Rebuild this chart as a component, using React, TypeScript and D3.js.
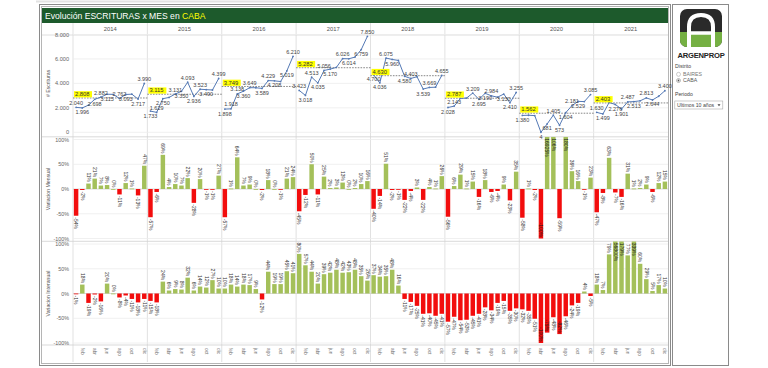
import React, { useEffect, useRef } from 'react';
import * as d3 from 'd3';

// Data (CABA, monthly deeds)
const years = ['2014', '2015', '2016', '2017', '2018', '2019', '2020', '2021'];
const monthNames = ['ene', 'feb', 'mar', 'abr', 'may', 'jun', 'jul', 'ago', 'sep', 'oct', 'nov', 'dic'];

const escrituras = [
  2040, 1996, 2222, 2698, 2882, 3115, 3103, 2762, 3093, 3120, 2717, 3990,
  1733, 1629, 2750, 2851, 3131, 3350, 4093, 2936, 3523, 3490, 3460, 4399,
  1898, 1918, 3138, 3360, 3649, 3646, 3589, 4229, 4208, 4153, 5019, 6210,
  3423, 3018, 4513, 4035, 5056, 5170, 5311, 6026, 6014, 6154, 6759, 7850,
  4700, 4036, 6075, 5960, 5877, 4580, 4403, 4549, 3539, 3669, 3689, 4655,
  2028, 2143, 2774, 2800, 3209, 2695, 3190, 2984, 2871, 3130, 2410, 3255,
  1380, 1395, 1365, 4, 681, 1405, 573, 1604, 2181, 2529, 2512, 3085,
  1630, 1499, 2438, 2276, 1901, 2487, 2513, 2574, 2813, 2644, 2950, 3400
];

const promedioAnual = [2808, 3115, 3749, 5282, 4630, 2787, 1562, 2403];

const variacionMensual = [
  -54, -2, 11, 21, 7, 8, 0, -11, 12, 1, -13, 47,
  -57, -6, 69, 4, 10, 7, 22, -28, 20, -1, -1, 27,
  -57, 1, 64, 7, 9, 0, -2, 18, 0, -1, 21, 24,
  -45, -12, 50, -11, 25, 2, 3, 13, 0, 2, 10, 16,
  -40, -14, 51, -2, -1, -22, -4, 3, -22, 4, 1, 26,
  -56, 6, 29, 1, 15, -16, 18, -6, -4, 9, -23, 35,
  -58, 1, -2, -100, 16925, 106, -59, 180, 36, 16, -1, 23,
  -47, -8, 63, -7, -16, 31, 1, 2, 9, -6, 12, 15
];

const variacionInteranual = [
  -1, 18, -19, -2, -16, 20, 0, -8, -4, -11, -18, -11,
  -15, -18, 24, 6, 9, 8, 32, 6, 14, 12, 27, 10,
  10, 18, 14, 18, 17, 9, -12, 44, 19, 19, 45, 41,
  80, 57, 44, 20, 39, 42, 48, 42, 43, 48, 35, 26,
  37, 34, 35, 48, 16, -11, -17, -25, -41, -40, -45, -41,
  -57, -47, -54, -53, -45, -41, -28, -34, -19, -15, -35, -30,
  -32, -35, -51, -100, -79, -48, -82, -46, -24, -19, 4, -5,
  18, 7, 79, 56800, 179, 77, 339, 60, 29, 5, 17, 10
];

const escriturasTicks = [0, 2000, 4000, 6000, 8000];
const pctTicks = [-100, -50, 0, 50, 100];

const FONT = "'Liberation Sans', Arial, sans-serif";
const GREEN_DARK = '#1d5a2c';
const BAR_GREEN = '#a4c05a';
const BAR_RED = '#f20d0d';
const LINE_BLUE = '#5479b5';

const loc = d3.formatLocale({ decimal: ',', thousands: '.', grouping: [3], currency: ['$', ''] });
const fmt = loc.format(',d');

type Box = { x0: number; x1: number; y0: number; y1: number };

function hits(b: Box, list: Box[]) {
  return list.some(function (o) {
    return b.x0 < o.x1 && b.x1 > o.x0 && b.y0 < o.y1 && b.y1 > o.y0;
  });
}

function draw(svgEl: SVGSVGElement) {
  const svg = d3.select(svgEl);
  svg.selectAll('*').remove();

  const plotL = 73, plotR = 668;
  const n = escrituras.length;

  var x = d3.scaleBand<number>()
    .domain(d3.range(n))
    .range([plotL, plotR])
    .paddingInner(0.28)
    .paddingOuter(0.14);
  var bw = x.bandwidth();
  var cx = (i: number) => (x(i) as number) + bw / 2;

  var yearX = d3.scaleBand<string>().domain(years).range([plotL, plotR]);

  var yTop = d3.scaleLinear().domain([0, 8000]).range([132.3, 34.5]);
  var yMid = d3.scaleLinear().domain([-100, 100]).range([238.5, 139.5]);
  var yBot = d3.scaleLinear().domain([-100, 100]).range([343, 244]);

  var defs = svg.append('defs');
  defs.append('clipPath').attr('id', 'clip-mid')
    .append('rect').attr('x', plotL).attr('y', 136.8).attr('width', plotR - plotL).attr('height', 104);
  defs.append('clipPath').attr('id', 'clip-bot')
    .append('rect').attr('x', plotL).attr('y', 241.3).attr('width', plotR - plotL).attr('height', 103.5);

  // frames
  svg.append('rect').attr('x', 0).attr('y', 0).attr('width', 768).attr('height', 368).attr('fill', '#fff');
  svg.append('line').attr('x1', 36).attr('x2', 360).attr('y1', 1.5).attr('y2', 1.5).attr('stroke', '#e2e2e2').attr('stroke-width', 2);
  svg.append('rect').attr('x', 39.5).attr('y', 4.5).attr('width', 631).attr('height', 361)
    .attr('fill', 'none').attr('stroke', '#8a8a8a');
  svg.append('rect').attr('x', 41.5).attr('y', 6.5).attr('width', 627).attr('height', 357)
    .attr('fill', 'none').attr('stroke', '#b5b5b5');

  // title bar
  svg.append('rect').attr('x', 42).attr('y', 8).attr('width', 626).attr('height', 15).attr('fill', GREEN_DARK);
  var title = svg.append('text').attr('x', 45).attr('y', 18.8)
    .style('font-family', FONT).style('font-size', '8.6px').style('fill', '#fff');
  title.append('tspan').text('Evolución ESCRITURAS x MES en ');
  title.append('tspan').style('fill', '#ffff00').text('CABA');

  var g = svg.append('g');

  // year header + dividers
  g.append('line').attr('x1', 42).attr('x2', 668).attr('y1', 35).attr('y2', 35).attr('stroke', '#d6d6d6').attr('stroke-width', 0.8);
  years.forEach(function (yr) {
    var x0 = yearX(yr) as number;
    g.append('text').attr('x', x0 + yearX.bandwidth() / 2).attr('y', 31)
      .attr('text-anchor', 'middle')
      .style('font-family', FONT).style('font-size', '5.8px').style('fill', '#555')
      .text(yr);
    g.append('line').attr('x1', x0).attr('x2', x0).attr('y1', 23).attr('y2', 362)
      .attr('stroke', '#d9d9d9').attr('stroke-width', 0.8);
  });

  // panel separators
  [136.8, 241.3, 345].forEach(function (yy) {
    g.append('line').attr('x1', 42).attr('x2', 668).attr('y1', yy).attr('y2', yy)
      .attr('stroke', '#cfcfcf').attr('stroke-width', 0.8);
  });

  // ---------- top: escrituras ----------
  escriturasTicks.forEach(function (t) {
    g.append('line').attr('x1', plotL).attr('x2', plotR).attr('y1', yTop(t)).attr('y2', yTop(t))
      .attr('stroke', '#ececec').attr('stroke-width', 0.8);
    g.append('text').attr('x', 69).attr('y', yTop(t) + 2)
      .attr('text-anchor', 'end')
      .style('font-family', FONT).style('font-size', '5.6px').style('fill', '#666')
      .text(fmt(t));
  });
  g.append('text')
    .attr('transform', 'translate(50,' + yTop(4000) + ') rotate(-90)')
    .attr('text-anchor', 'middle')
    .style('font-family', FONT).style('font-size', '5.2px').style('fill', '#555')
    .text('# Escrituras');

  var line = d3.line<number>()
    .x(function (d) { return cx(d); })
    .y(function (d) { return yTop(escrituras[d]); });

  // obstacles for point labels: yellow average boxes first
  var placed: Box[] = [];
  years.forEach(function (yr, k) {
    var x0 = yearX(yr) as number;
    var ya = yTop(promedioAnual[k]);
    var w = fmt(promedioAnual[k]).length * 3.2 + 2;
    placed.push({ x0: x0 + 1, x1: x0 + 1 + w, y0: ya - 6.8, y1: ya - 0.6 });
  });

  years.forEach(function (yr, k) {
    var idx = d3.range(k * 12, k * 12 + 12);
    var x0 = yearX(yr) as number;
    var x1 = x0 + yearX.bandwidth();
    var ya = yTop(promedioAnual[k]);

    // average reference line
    g.append('line').attr('x1', x0).attr('x2', x1).attr('y1', ya).attr('y2', ya)
      .attr('stroke', '#555').attr('stroke-width', 0.7).attr('stroke-dasharray', '1.6,1.2');

    g.append('path').datum(idx).attr('d', line)
      .attr('fill', 'none').attr('stroke', LINE_BLUE).attr('stroke-width', 1);

    g.selectAll('.pt' + k).data(idx).enter().append('circle')
      .attr('cx', function (d) { return cx(d); })
      .attr('cy', function (d) { return yTop(escrituras[d]); })
      .attr('r', 0.9).attr('fill', LINE_BLUE);

    // point labels, placed above or below; hidden when both collide
    idx.forEach(function (d, j) {
      var v = escrituras[d];
      var prev = j > 0 ? escrituras[d - 1] : v;
      var next = j < 11 ? escrituras[d + 1] : v;
      var above = v >= (prev + next) / 2;
      var txt = fmt(v);
      var w = txt.length * 2.75;
      var px = cx(d);
      var py = yTop(v);
      var opts = above ? [py - 2.5, py + 6.5] : [py + 6.5, py - 2.5];
      for (var o = 0; o < opts.length; o++) {
        var b = { x0: px - w / 2, x1: px + w / 2, y0: opts[o] - 4.2, y1: opts[o] + 0.3 };
        if (!hits(b, placed)) {
          placed.push(b);
          g.append('text').attr('x', px).attr('y', opts[o])
            .attr('text-anchor', 'middle')
            .style('font-family', FONT).style('font-size', '5.5px').style('fill', '#444')
            .text(txt);
          break;
        }
      }
    });

    // yellow average label
    var label = fmt(promedioAnual[k]);
    g.append('rect').attr('x', x0 + 1).attr('y', ya - 6.8).attr('width', label.length * 3.2 + 2).attr('height', 6.2)
      .attr('fill', '#ffff00');
    g.append('text').attr('x', x0 + 2).attr('y', ya - 1.8)
      .style('font-family', FONT).style('font-size', '5.8px').style('fill', '#333')
      .text(label);
  });

  // ---------- bar panels ----------
  function barPanel(data: number[], y: d3.ScaleLinear<number, number>, clipId: string, top: number, bottom: number, titleText: string) {
    pctTicks.forEach(function (t) {
      g.append('line').attr('x1', plotL).attr('x2', plotR).attr('y1', y(t)).attr('y2', y(t))
        .attr('stroke', t === 0 ? '#d0d0d0' : '#ececec').attr('stroke-width', 0.8);
      g.append('text').attr('x', 69).attr('y', y(t) + 2)
        .attr('text-anchor', 'end')
        .style('font-family', FONT).style('font-size', '5.4px').style('fill', '#666')
        .text(t + '%');
    });
    g.append('text')
      .attr('transform', 'translate(50,' + y(0) + ') rotate(-90)')
      .attr('text-anchor', 'middle')
      .style('font-family', FONT).style('font-size', '5.2px').style('fill', '#555')
      .text(titleText);

    var pg = g.append('g').attr('clip-path', 'url(#' + clipId + ')');
    var y0 = y(0);
    var end = function (v: number) { return Math.max(top, Math.min(bottom, y(v))); };
    var inside = function (d: number) {
      var len = (String(d).length + 1) * 3;
      var ye = end(d);
      return d >= 0 ? ye - len - 1.5 < top : ye + len + 1.5 > bottom;
    };

    pg.selectAll('rect').data(data).enter().append('rect')
      .attr('x', function (d, i) { return x(i) as number; })
      .attr('width', bw)
      .attr('y', function (d) { return Math.min(y0, end(d)); })
      .attr('height', function (d) { return Math.max(0.8, Math.abs(end(d) - y0)); })
      .attr('fill', function (d) { return d >= 0 ? BAR_GREEN : BAR_RED; });

    pg.selectAll('text').data(data).enter().append('text')
      .attr('transform', function (d, i) {
        var ye = end(d);
        var yy;
        if (d >= 0) yy = inside(d) ? ye + 1.5 : ye - 1.5;
        else yy = inside(d) ? ye - 1.5 : ye + 1.5;
        return 'translate(' + cx(i) + ',' + yy + ') rotate(90)';
      })
      .attr('dy', '0.35em')
      .attr('text-anchor', function (d) {
        if (d >= 0) return inside(d) ? 'start' : 'end';
        return inside(d) ? 'end' : 'start';
      })
      .style('font-family', FONT).style('font-size', '5px')
      .style('fill', function (d) { return inside(d) ? '#1a1a1a' : '#333'; })
      .text(function (d) { return d + '%'; });
  }

  barPanel(variacionMensual, yMid, 'clip-mid', 136.8, 241.3, 'Variacion Mensual');
  barPanel(variacionInteranual, yBot, 'clip-bot', 241.3, 345, 'Variacion Interanual');

  // x axis month labels (every other month)
  g.selectAll('.mlab').data(d3.range(n).filter(function (i) { return i % 2 === 1; })).enter().append('text')
    .attr('transform', function (i) { return 'translate(' + cx(i) + ',348) rotate(90)'; })
    .attr('dy', '0.35em')
    .style('font-family', FONT).style('font-size', '4.8px').style('fill', '#777')
    .text(function (i) { return monthNames[i % 12]; });

  // ---------- side panel ----------
  var side = svg.append('g');
  side.append('rect').attr('x', 672.5).attr('y', 4.5).attr('width', 56).attr('height', 361)
    .attr('fill', '#fff').attr('stroke', '#8a8a8a');

  defs.append('clipPath').attr('id', 'clip-logo')
    .append('rect').attr('x', 680).attr('y', 9).attr('width', 42).attr('height', 38).attr('rx', 7);
  var logo = side.append('g').attr('clip-path', 'url(#clip-logo)');
  logo.append('rect').attr('x', 680).attr('y', 9).attr('width', 42).attr('height', 38).attr('fill', '#2a2a2a');
  logo.append('rect').attr('x', 680).attr('y', 32).attr('width', 42).attr('height', 15).attr('fill', '#75b043');
  logo.append('path')
    .attr('d', 'M689,48 L689,27 Q689,15 701,15 Q713,15 713,27 L713,48')
    .attr('fill', 'none').attr('stroke', '#fff').attr('stroke-width', 4);
  logo.append('line').attr('x1', 689).attr('x2', 713).attr('y1', 33).attr('y2', 33)
    .attr('stroke', '#fff').attr('stroke-width', 3.5);
  logo.append('path').attr('d', 'M694,21 Q701,17 708,21').attr('fill', 'none').attr('stroke', '#2a2a2a').attr('stroke-width', 1.2);

  side.append('text').attr('x', 701).attr('y', 57.5).attr('text-anchor', 'middle')
    .style('font-family', FONT).style('font-size', '7.6px').style('font-weight', 'bold').style('fill', '#222')
    .style('letter-spacing', '-0.2px')
    .text('ARGENPROP');

  var small = function (t: string, xx: number, yy: number, c: string) {
    side.append('text').attr('x', xx).attr('y', yy)
      .style('font-family', FONT).style('font-size', '5.2px').style('fill', c).text(t);
  };
  small('Distrito', 675, 68, '#444');
  side.append('circle').attr('cx', 678.5).attr('cy', 74.3).attr('r', 2).attr('fill', '#fff').attr('stroke', '#999').attr('stroke-width', 0.5);
  small('BAIRES', 683, 76, '#777');
  side.append('circle').attr('cx', 678.5).attr('cy', 80.5).attr('r', 2).attr('fill', '#fff').attr('stroke', '#777').attr('stroke-width', 0.5);
  side.append('circle').attr('cx', 678.5).attr('cy', 80.5).attr('r', 0.9).attr('fill', '#555');
  small('CABA', 683, 82.2, '#555');
  small('Periodo', 675, 96, '#444');
  side.append('rect').attr('x', 674.8).attr('y', 101).attr('width', 48).attr('height', 8)
    .attr('fill', '#fff').attr('stroke', '#aaa').attr('stroke-width', 0.6);
  small('Ultimos 10 años', 677, 106.8, '#444');
  side.append('path').attr('d', 'M717.5,104.3 L720.5,104.3 L719,106.2 Z').attr('fill', '#444');
}

export default function App() {
  const ref = useRef<SVGSVGElement>(null);

  useEffect(() => {
    if (ref.current) draw(ref.current);
  }, []);

  return (
    <svg
      ref={ref}
      width={768}
      height={368}
      style={{ position: 'absolute', left: 0, top: 0, display: 'block' }}
    />
  );
}
